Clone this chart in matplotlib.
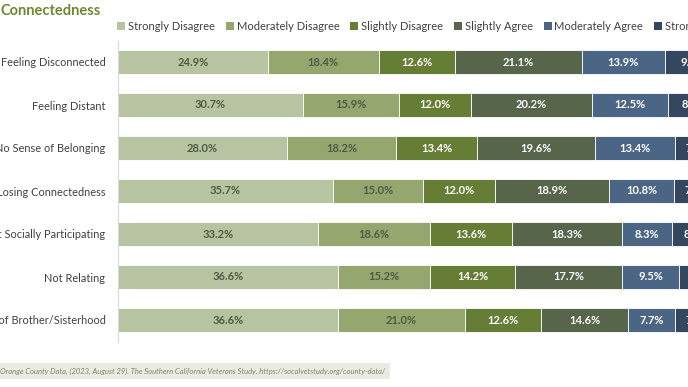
import numpy as np
import matplotlib.pyplot as plt
from matplotlib.patches import Patch

# Survey items (top to bottom) and the share of each answer, in percent
items = ["Feeling Disconnected", "Feeling Distant", "No Sense of Belonging",
         "Losing Connectedness", "Not Socially Participating", "Not Relating",
         "Sense of Brother/Sisterhood"]
answers = ["Strongly Disagree", "Moderately Disagree", "Slightly Disagree",
           "Slightly Agree", "Moderately Agree", "Strongly Agree"]

strongly_disagree = [24.9, 30.7, 28.0, 35.7, 33.2, 36.6, 36.6]
moderately_disagree = [18.4, 15.9, 18.2, 15.0, 18.6, 15.2, 21.0]
slightly_disagree = [12.6, 12.0, 13.4, 12.0, 13.6, 14.2, 12.6]
slightly_agree = [21.1, 20.2, 19.6, 18.9, 18.3, 17.7, 14.6]
moderately_agree = [13.9, 12.5, 13.4, 10.8, 8.3, 9.5, 7.7]
strongly_agree = [9.1, 8.7, 7.4, 7.6, 8.0, 6.8, 7.5]

colors = ["#b8c4a1", "#96a66f", "#667d35", "#57654a", "#4b6585", "#34475f"]
text_colors = ["#4f5a44", "#4f5a44", "white", "white", "white", "white"]

plt.rcParams['font.family'] = ['Lato', 'DejaVu Sans']

fig = plt.figure(figsize=(6.88, 3.87), dpi=100)
# axes deliberately runs past the right edge: the reference is a cropped view
ax = fig.add_axes([118 / 688, 45.5 / 387, 602 / 688, 301 / 387])

series = [strongly_disagree, moderately_disagree, slightly_disagree,
          slightly_agree, moderately_agree, strongly_agree]
y = np.arange(len(items))
left = np.zeros(len(items))
for vals, name, c, tc in zip(series, answers, colors, text_colors):
    vals = np.array(vals)
    ax.barh(y, vals, left=left, height=0.56, color=c, label=name,
            edgecolor="white", linewidth=0.6)
    for yi, (l, v) in enumerate(zip(left, vals)):
        ax.text(l + v / 2, yi, f"{v:.1f}%", ha="center", va="center",
                color=tc, fontsize=8, fontweight="bold")
    left += vals

ax.set_xlim(0, 100)
ax.set_ylim(len(items) - 0.5, -0.5)
ax.set_yticks(y)
ax.set_yticklabels(items, fontsize=7.9, color="#404040")
ax.tick_params(axis="y", length=0, pad=9)
ax.set_xticks([])
for s in ["top", "right", "bottom"]:
    ax.spines[s].set_visible(False)
ax.spines["left"].set_color("#d9d9d9")
ax.spines["left"].set_linewidth(0.8)

fig.text(0.001, 1 - 11 / 387, "Connectedness", fontsize=10.5, fontweight="bold",
         color="#6a8a2f", ha="left", va="center")

handles = [Patch(facecolor=c, label=a) for c, a in zip(colors, answers)]
fig.legend(handles=handles, loc="center left", ncol=6,
           bbox_to_anchor=(113 / 688, 1 - 26 / 387), frameon=False,
           fontsize=8, labelcolor="#404040", handlelength=0.7, handleheight=0.7,
           handletextpad=0.25, columnspacing=1.0, borderaxespad=0)

fig.text(0.0, 1 - 371 / 387,
         "Orange County Data. (2023, August 29). The Southern California Veterans Study. https://socalvetstudy.org/county-data/",
         fontsize=5.5, style="italic", color="#7d8c5c", ha="left", va="center",
         bbox=dict(facecolor="#e9ebe4", edgecolor="none", pad=3.5))

fig.savefig("out.png", dpi=100)
